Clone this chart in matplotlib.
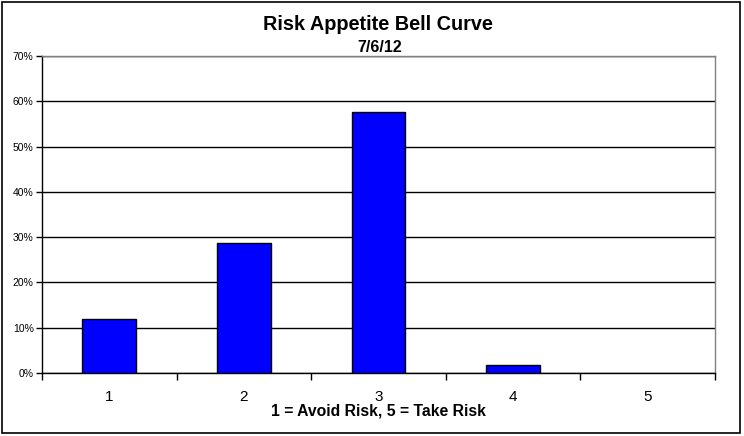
import matplotlib
matplotlib.use('Agg')
import matplotlib.pyplot as plt
from matplotlib.patches import Rectangle
from matplotlib.ticker import FuncFormatter, FixedLocator, NullFormatter

plt.rcParams['font.family'] = ['Liberation Sans', 'DejaVu Sans']

# ── Data ──────────────────────────────────────────────────────────────────────
categories = ['1', '2', '3', '4', '5']
shares = [0.1185, 0.287, 0.5755, 0.0177, 0.0]
y_ticks = [0.0, 0.1, 0.2, 0.3, 0.4, 0.5, 0.6, 0.7]

fig = plt.figure(figsize=(7.44, 4.36), dpi=100, facecolor='white')
ax = fig.add_axes([42 / 744, 63 / 436, 673 / 744, 317 / 436])

pos = list(range(len(categories)))
bars = ax.bar(pos, shares, width=0.4, color='#0000FF', edgecolor='black',
              linewidth=1.0, zorder=3)
# Excel draws nothing for an empty category
for b, v in zip(bars, shares):
    if v == 0:
        b.set_linewidth(0)

ax.set_xlim(-0.5, len(categories) - 0.5)
ax.set_ylim(0, 0.7)

# gridlines
ax.set_yticks(y_ticks)
ax.yaxis.set_major_formatter(FuncFormatter(lambda v, _: f"{v * 100:.0f}%"))
ax.grid(axis='y', color='black', linewidth=1.0, zorder=1)
ax.tick_params(axis='y', labelsize=7.5, length=4, width=1.0, direction='out',
               pad=2)

# x ticks at category borders, labels centred
ax.set_xticks(pos)
ax.set_xticklabels(categories)
ax.tick_params(axis='x', which='major', length=0, labelsize=11, pad=12)
ax.xaxis.set_minor_locator(FixedLocator([p - 0.5 for p in pos] + [pos[-1] + 0.5]))
ax.xaxis.set_minor_formatter(NullFormatter())
ax.tick_params(axis='x', which='minor', length=5, width=1.0, direction='out')

for side in ['top', 'right']:
    ax.spines[side].set_color('#808080')
    ax.spines[side].set_linewidth(1.0)
for side in ['left', 'bottom']:
    ax.spines[side].set_color('black')
    ax.spines[side].set_linewidth(1.0)

ax.set_xlabel("1 = Avoid Risk, 5 = Take Risk", fontsize=11.3,
              fontweight='bold', labelpad=0)

# titles
fig.text(378 / 744, 1 - 25 / 436, "Risk Appetite Bell Curve", ha='center',
         va='center', fontsize=14.3, fontweight='bold')
fig.text(380 / 744, 1 - 47 / 436, "7/6/12", ha='center', va='center',
         fontsize=11.5, fontweight='bold')

# outer chart border
fig.add_artist(Rectangle((2 / 744, 3 / 436), 738 / 744, 431 / 436,
                         transform=fig.transFigure, fill=False,
                         edgecolor='black', linewidth=1.2))

plt.savefig('out.png', dpi=100, facecolor='white')
plt.close()
